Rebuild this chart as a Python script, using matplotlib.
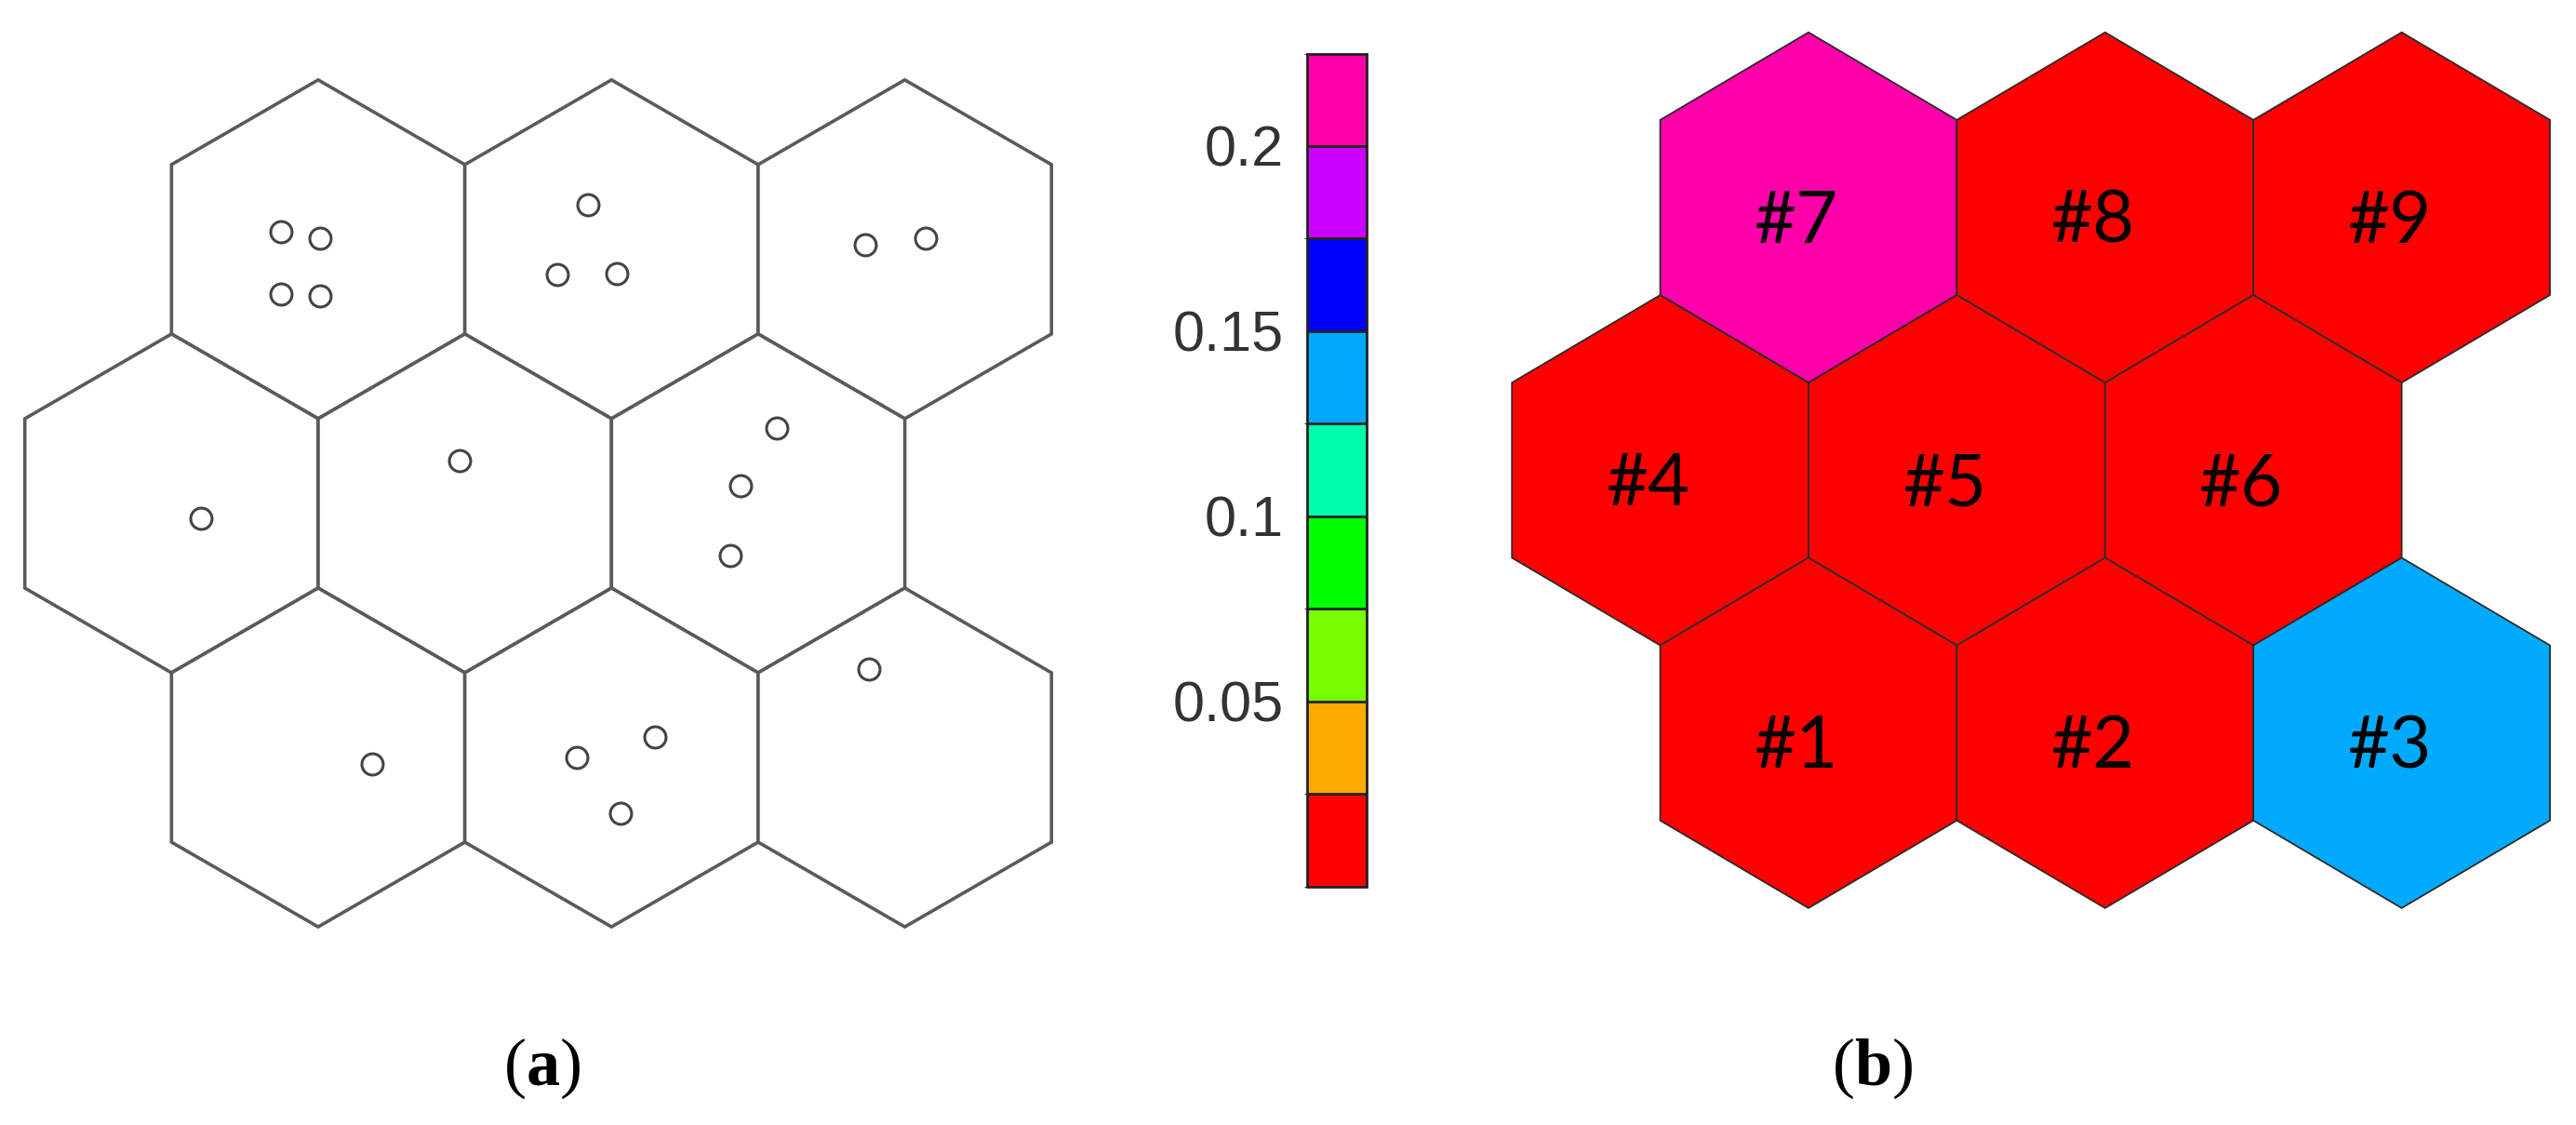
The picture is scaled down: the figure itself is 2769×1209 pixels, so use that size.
import numpy as np
import matplotlib.pyplot as plt
from matplotlib.patches import RegularPolygon
from matplotlib.colors import ListedColormap, BoundaryNorm
from matplotlib.cm import ScalarMappable

plt.rcParams['mathtext.fontset'] = 'custom'
plt.rcParams['mathtext.rm'] = 'Liberation Serif'
plt.rcParams['mathtext.bf'] = 'Liberation Serif:bold'

# hex cells: row 0 is the top row, row 1 sits half a cell to the left
rows = [0, 0, 0, 1, 1, 1, 2, 2, 2]
cols = [0, 1, 2, 0, 1, 2, 0, 1, 2]

# (a) positions of the points (cell width = 1, row 0 centre at y = 0)
pts_x = [0.874, 1.007, 0.874, 1.007, 1.919, 1.816, 2.017, 2.866, 3.072,
         0.600, 1.482, 2.564, 2.441, 2.405, 1.185, 2.148, 1.882, 2.031, 2.878]
pts_y = [-0.060, -0.038, 0.154, 0.160, -0.152, 0.085, 0.083, -0.017, -0.038,
         0.918, 0.719, 0.608, 0.805, 1.044, 1.755, 1.663, 1.731, 1.921, 1.430]

# (b) cell names and values, same order as rows/cols
cell_names = ["#7", "#8", "#9", "#4", "#5", "#6", "#1", "#2", "#3"]
cell_vals = [0.21, 0.01, 0.01, 0.01, 0.01, 0.01, 0.01, 0.01, 0.14]

bounds = [0, 0.025, 0.05, 0.075, 0.1, 0.125, 0.15, 0.175, 0.2, 0.225]
bin_colors = ['#ff0000', '#ffaa00', '#77ff00', '#00ff00', '#00ffaa',
              '#00aaff', '#0000ff', '#cc00ff', '#ff00aa']
cbar_ticks = [0.05, 0.1, 0.15, 0.2]
cbar_labels = ['0.05', '0.1', '0.15', '0.2']

W, H = 2769, 1209
fig = plt.figure(figsize=(W / 100, H / 100), dpi=100)

R = 1 / np.sqrt(3)


def centre(r, c):
    return c + 1 - 0.5 * (r == 1), r * np.sqrt(3) / 2


def panel(x0, y0, sx, sy, xlim, ylim):
    # x0, y0 = pixel spot of unit (0, 0); sx, sy = pixels per unit
    left = x0 + xlim[0] * sx
    right = x0 + xlim[1] * sx
    top = y0 + ylim[0] * sy
    bot = y0 + ylim[1] * sy
    ax = fig.add_axes([left / W, 1 - bot / H, (right - left) / W, (bot - top) / H])
    ax.set_xlim(*xlim)
    ax.set_ylim(ylim[1], ylim[0])
    ax.axis('off')
    return ax


# (a)
ax1 = panel(26.7, 267.9, 315.3, 315.3, (-0.05, 3.55), (-0.7, 2.4))
for r, c in zip(rows, cols):
    ax1.add_patch(RegularPolygon(centre(r, c), 6, radius=R, orientation=0,
                                 facecolor='white', edgecolor='#5a5a5a', lw=2.6))
ax1.plot(pts_x, pts_y, 'o', ms=16.5, mfc='none', mec='#444444', mew=2.2)

# (b)
cmap = ListedColormap(bin_colors)
norm = BoundaryNorm(bounds, cmap.N)
ax2 = panel(1625.2, 223, 318.8, 326, (-0.05, 3.55), (-0.65, 2.4))
for r, c, name, v in zip(rows, cols, cell_names, cell_vals):
    x, y = centre(r, c)
    ax2.add_patch(RegularPolygon((x, y), 6, radius=R, orientation=0,
                                 facecolor=cmap(norm(v)), edgecolor='#2b2b2b', lw=1.3))
    ax2.text(x - 0.04, y + 0.05, name, ha='center', va='center', fontsize=56,
             family='Lato', color='black')

# colour bar
cax = fig.add_axes([1405 / W, 1 - 952.5 / H, 64 / W, 895 / H])
cb = fig.colorbar(ScalarMappable(norm=norm, cmap=cmap), cax=cax,
                  ticks=cbar_ticks, drawedges=True)
cb.set_ticklabels(cbar_labels)
cax.yaxis.set_ticks_position('left')
cax.tick_params(length=0, pad=18, labelsize=44, labelcolor='#333333')
for t in cax.get_yticklabels():
    t.set_family('Liberation Sans')
cb.outline.set_edgecolor('#222222')
cb.outline.set_linewidth(2)
cb.dividers.set_color('#222222')
cb.dividers.set_linewidth(2)

# captions
fig.text(583 / W, 1 - 1148 / H, '(' + r'$\mathbf{a}$' + ')', ha='center', va='center',
         fontsize=52, family='Liberation Serif')
fig.text(2013 / W, 1 - 1148 / H, '(' + r'$\mathbf{b}$' + ')', ha='center', va='center',
         fontsize=52, family='Liberation Serif')

fig.savefig('out.png', dpi=100, facecolor='white')
